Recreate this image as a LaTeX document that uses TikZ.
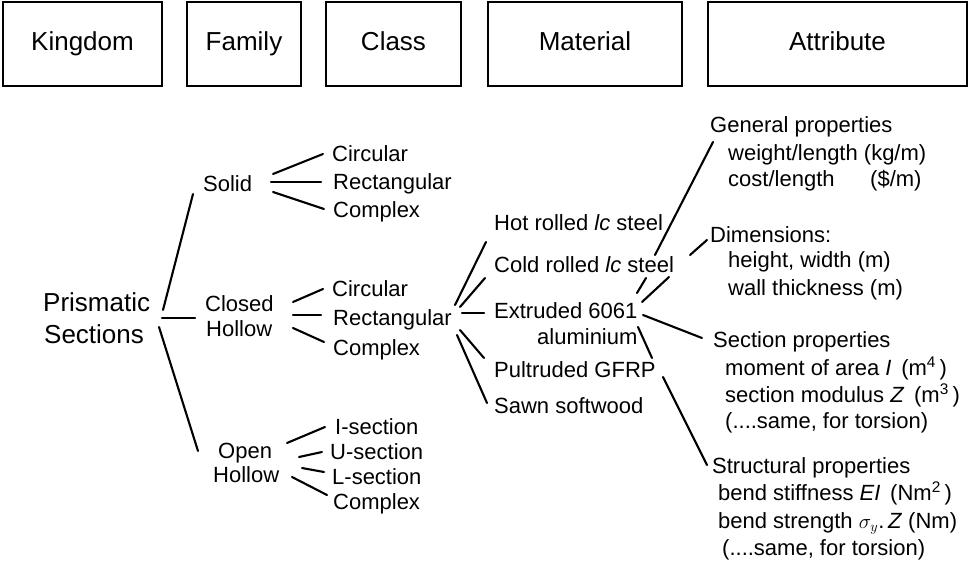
\documentclass[tikz,border=0pt]{standalone}
\usepackage{fontspec}
\setmainfont{Liberation Sans}
\begin{document}
\begin{tikzpicture}[x=1pt,y=-1pt,
  hdr/.style={draw, line width=1.6pt, font=\fontsize{26}{30}\selectfont, minimum height=84pt, inner sep=0pt, text height=18.6pt, text depth=6pt},
  big/.style={font=\fontsize{26}{30}\selectfont, anchor=base west, inner sep=0pt},
  txt/.style={font=\fontsize{22}{26}\selectfont, anchor=base west, inner sep=0pt},
  ln/.style={line width=2.1pt, line cap=round}]
\useasboundingbox (0,0) rectangle (969,569);
% header boxes
\node[hdr, minimum width=159pt] (kingdom) at (82.5,44) {Kingdom};
\node[hdr, minimum width=114pt] (family) at (244,44) {Family};
\node[hdr, minimum width=135pt] (class) at (393.5,44) {Class};
\node[hdr, minimum width=194pt] (material) at (585,44) {Material};
\node[hdr, minimum width=259pt] (attribute) at (837.5,44) {Attribute};
% kingdom
\node[big] (ps1) at (43,312) {Prismatic};
\node[big] (ps2) at (44,343) {Sections};
% families
\node[txt] (solid) at (203,192) {Solid};
\node[txt] (closed1) at (205,312) {Closed};
\node[txt] (closed2) at (206,337) {Hollow};
\node[txt] (open1) at (218,458) {Open};
\node[txt] (open2) at (213,482) {Hollow};
% classes
\node[txt] (s-circ) at (332,162) {Circular};
\node[txt] (s-rect) at (333,190) {Rectangular};
\node[txt] (s-comp) at (333,218) {Complex};
\node[txt] (c-circ) at (332,297) {Circular};
\node[txt] (c-rect) at (333,326) {Rectangular};
\node[txt] (c-comp) at (333,355) {Complex};
\node[txt] (o-i) at (335,434) {I-section};
\node[txt] (o-u) at (330,459) {U-section};
\node[txt] (o-l) at (332,484) {L-section};
\node[txt] (o-comp) at (333,509) {Complex};
% materials
\node[txt] (hot) at (494,231) {Hot rolled \textit{lc} steel};
\node[txt] (cold) at (494,273) {Cold rolled \textit{lc} steel};
\node[txt] (extr1) at (494,319) {Extruded 6061};
\node[txt] (extr2) at (537,344) {aluminium};
\node[txt] (pult) at (494,377) {Pultruded GFRP};
\node[txt] (sawn) at (494,413) {Sawn softwood};
% attributes
\node[txt] (gen0) at (710,133) {General properties};
\node[txt] (gen1) at (728,161) {weight/length (kg/m)};
\node[txt] (gen2) at (728,187) {cost/length};
\node[txt] (gen3) at (870,187) {(\$/m)};
\node[txt] (dim0) at (710,243) {Dimensions:};
\node[txt] (dim1) at (728,268) {height, width (m)};
\node[txt] (dim2) at (728,295) {wall thickness (m)};
\node[txt] (sec0) at (713,347) {Section properties};
\node[txt] (sec1) at (725,375) {moment of area \textit{I}\, (m\textsuperscript{4}\,)};
\node[txt] (sec2) at (725,402) {section modulus \textit{Z}\, (m\textsuperscript{3}\,)};
\node[txt] (sec3) at (725,428) {(....same, for torsion)};
\node[txt] (str0) at (712,473) {Structural properties};
\node[txt] (str1) at (718,500) {bend stiffness \textit{EI}\, (Nm\textsuperscript{2}\,)};
\node[txt] (str2) at (718,528) {bend strength $\sigma_y$.\,\textit{Z} (Nm)};
\node[txt] (str3) at (722,555) {(....same, for torsion)};
% connector end points
\coordinate (k-a) at (163,310); \coordinate (f-a) at (193,194);
\coordinate (k-b) at (162,318); \coordinate (f-b) at (195,318);
\coordinate (k-c) at (159,327); \coordinate (f-c) at (198,451);
\coordinate (s-a) at (273,174); \coordinate (s-a2) at (323,154);
\coordinate (s-b) at (271,182); \coordinate (s-b2) at (321,182);
\coordinate (s-c) at (273,192); \coordinate (s-c2) at (324,209);
\coordinate (c-a) at (293,302); \coordinate (c-a2) at (323,289);
\coordinate (c-b) at (293,315); \coordinate (c-b2) at (321,315);
\coordinate (c-c) at (293,328); \coordinate (c-c2) at (324,342);
\coordinate (o-a) at (287,443); \coordinate (o-a2) at (325,427);
\coordinate (o-b) at (299,457); \coordinate (o-b2) at (322,452);
\coordinate (o-c) at (302,468); \coordinate (o-c2) at (324,472);
\coordinate (o-d) at (292,477); \coordinate (o-d2) at (327,495);
\coordinate (m-a) at (455,305); \coordinate (m-a2) at (486,242);
\coordinate (m-b) at (460,307); \coordinate (m-b2) at (485,278);
\coordinate (m-c) at (462,313); \coordinate (m-c2) at (484,313);
\coordinate (m-d) at (460,330); \coordinate (m-d2) at (484,358);
\coordinate (m-e) at (457,335); \coordinate (m-e2) at (487,403);
\coordinate (a-a) at (655,255); \coordinate (a-a2) at (713,142);
\coordinate (a-b) at (690,255); \coordinate (a-b2) at (707,240);
\coordinate (a-c) at (637,293); \coordinate (a-c2) at (646,278);
\coordinate (a-d) at (642,302); \coordinate (a-d2) at (669,277);
\coordinate (a-e) at (643,315); \coordinate (a-e2) at (702,338);
\coordinate (a-f) at (638,327); \coordinate (a-f2) at (652,358);
\coordinate (a-g) at (663,377); \coordinate (a-g2) at (707,465);
% connectors
\foreach \p/\q in {k-a/f-a,k-b/f-b,k-c/f-c,s-a/s-a2,s-b/s-b2,s-c/s-c2,c-a/c-a2,c-b/c-b2,c-c/c-c2,o-a/o-a2,o-b/o-b2,o-c/o-c2,o-d/o-d2,m-a/m-a2,m-b/m-b2,m-c/m-c2,m-d/m-d2,m-e/m-e2,a-a/a-a2,a-b/a-b2,a-c/a-c2,a-d/a-d2,a-e/a-e2,a-f/a-f2,a-g/a-g2}
  \draw[ln] (\p) -- (\q);
\end{tikzpicture}
\end{document}
